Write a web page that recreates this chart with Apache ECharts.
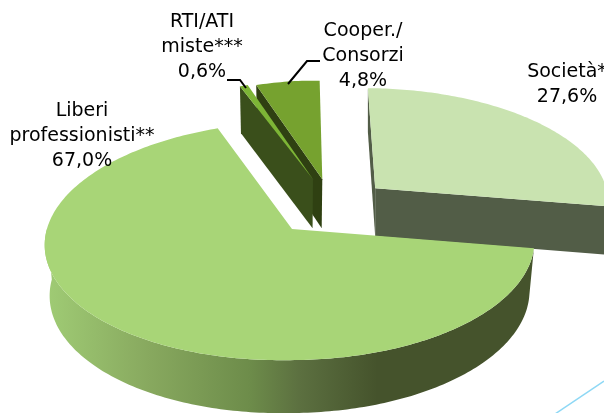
<!DOCTYPE html>
<html>
<head>
<meta charset="utf-8">
<style>html,body{margin:0;padding:0;background:#fff}#main{width:604px;height:413px}</style>
<script src="https://cdn.jsdelivr.net/npm/echarts@6/dist/echarts.min.js"></script>
</head>
<body>
<div id="main"></div>
<script>
// clockwise from 12 o'clock
const categories = ['Società*', 'Liberi\nprofessionisti**', 'RTI/ATI\nmiste***', 'Cooper./\nConsorzi'];
const values = [27.6, 67.0, 0.6, 4.8];
const valueLabels = ['27,6%', '67,0%', '0,6%', '4,8%'];

const topColors = ['#c9e3b0', '#a8d577', '#7db536', '#76a22f'];
const sideColors = ['#525d47', '#45532c', '#3a4f1b', '#2f4012'];

// shape of the tilted disc
const cx = 292, cy = 229, rx = 243.6, ry = 118, depth = 50;
const tiltK = 0.1, tiltM = 0.01, sag = 4;
// bottom plane is a bit smaller, the pulled out right slice runs off the page so it stays full
const shrink = [1, 0.98, 0.98, 0.98];
// exploded offset of each slice, in disc units
const pull = [[0.355, -0.36], [0, 0], [0.09, -0.44], [0.13, -0.44]];
const drawOrder = [0, 6, 4, 2];
const labelPos = [[567, 72], [82, 111], [202, 22], [363, 31]];

function project(u, v, q, low) {
  const s = 1 / (1 - tiltK * v + tiltM * u);
  const drop = sag * Math.max(0, -u);
  if (low) return [cx + rx * u * s * q, cy + (ry * v * q + depth) * s + drop];
  return [cx + rx * u * s, cy + ry * v * s + drop];
}

function area(pts) {
  let a = 0;
  pts.forEach((p, i) => {
    const q = pts[(i + 1) % pts.length];
    a += p[0] * q[1] - q[0] * p[1];
  });
  return a;
}

const total = values.reduce((a, b) => a + b, 0);

function renderSlice(params, api) {
  const i = params.dataIndex;
  const before = values.slice(0, i).reduce((a, b) => a + b, 0);
  const a0 = before / total * Math.PI * 2;
  const a1 = (before + api.value(0)) / total * Math.PI * 2;
  const du = pull[i][0], dv = pull[i][1], q = shrink[i];
  const steps = Math.max(2, Math.round((a1 - a0) * 60));
  const topArc = [], lowArc = [], wallTop = [], wallLow = [];
  for (let k = 0; k <= steps; k++) {
    const t = a0 + (a1 - a0) * k / steps;
    const u = du + Math.sin(t), v = dv - Math.cos(t);
    const pTop = project(u, v, q, false), pLow = project(u, v, q, true);
    topArc.push(pTop);
    lowArc.push(pLow);
    // only the front of the rim can be seen
    if (Math.cos(t) < 0.05) {
      wallTop.push(pTop);
      wallLow.push(pLow);
    }
  }
  const apexTop = project(du, dv, q, false);
  const apexLow = project(du, dv, q, true);
  const z = drawOrder[i] * 10;
  const children = [];

  let wallFill = sideColors[i];
  if (i === 1) {
    wallFill = new echarts.graphic.LinearGradient(0, 0, 1, 0, [
      { offset: 0, color: '#a0cc75' },
      { offset: 0.21, color: '#88a95f' },
      { offset: 0.42, color: '#6d8c4a' },
      { offset: 0.52, color: '#5c7040' },
      { offset: 0.68, color: '#45532c' },
      { offset: 1, color: '#45532c' }
    ]);
  }
  if (wallTop.length > 1) {
    children.push({
      type: 'polygon', z2: z,
      shape: { points: wallTop.concat(wallLow.slice().reverse()) },
      style: { fill: wallFill }
    });
  }

  // cut faces, only the ones turned to the viewer
  const firstFace = [topArc[0], apexTop, apexLow, lowArc[0]];
  const lastFace = [apexTop, topArc[steps], lowArc[steps], apexLow];
  [firstFace, lastFace].forEach(pts => {
    if (area(pts) > 0) {
      children.push({
        type: 'polygon', z2: z + 1,
        shape: { points: pts },
        style: { fill: sideColors[i] }
      });
    }
  });

  children.push({
    type: 'polygon', z2: z + 2,
    shape: { points: [apexTop].concat(topArc) },
    style: { fill: topColors[i] }
  });

  const lines = categories[i].split('\n').concat(valueLabels[i]);
  lines.forEach((txt, n) => {
    children.push({
      type: 'text', z2: 100,
      style: {
        x: labelPos[i][0], y: labelPos[i][1] + n * 25,
        text: txt,
        fill: '#000',
        font: '19px "DejaVu Sans", sans-serif',
        align: 'center', verticalAlign: 'middle'
      }
    });
  });
  return { type: 'group', children: children };
}

const chart = echarts.init(document.getElementById('main'));
chart.setOption({
  animation: false,
  backgroundColor: '#fff',
  graphic: [
    { type: 'polyline', silent: true, z: 10, shape: { points: [[227, 80], [240, 80], [246, 88]] }, style: { stroke: '#000', lineWidth: 2, fill: null } },
    { type: 'polyline', silent: true, z: 10, shape: { points: [[320, 61], [307, 61], [288, 84]] }, style: { stroke: '#000', lineWidth: 2, fill: null } },
    { type: 'line', silent: true, z: 10, shape: { x1: 604, y1: 381, x2: 555, y2: 414 }, style: { stroke: '#8ed8f5', lineWidth: 1.5 } }
  ],
  series: [{
    type: 'custom',
    coordinateSystem: 'none',
    silent: true,
    clip: false,
    renderItem: renderSlice,
    data: values.map(v => [v])
  }]
});
</script>
</body>
</html>
